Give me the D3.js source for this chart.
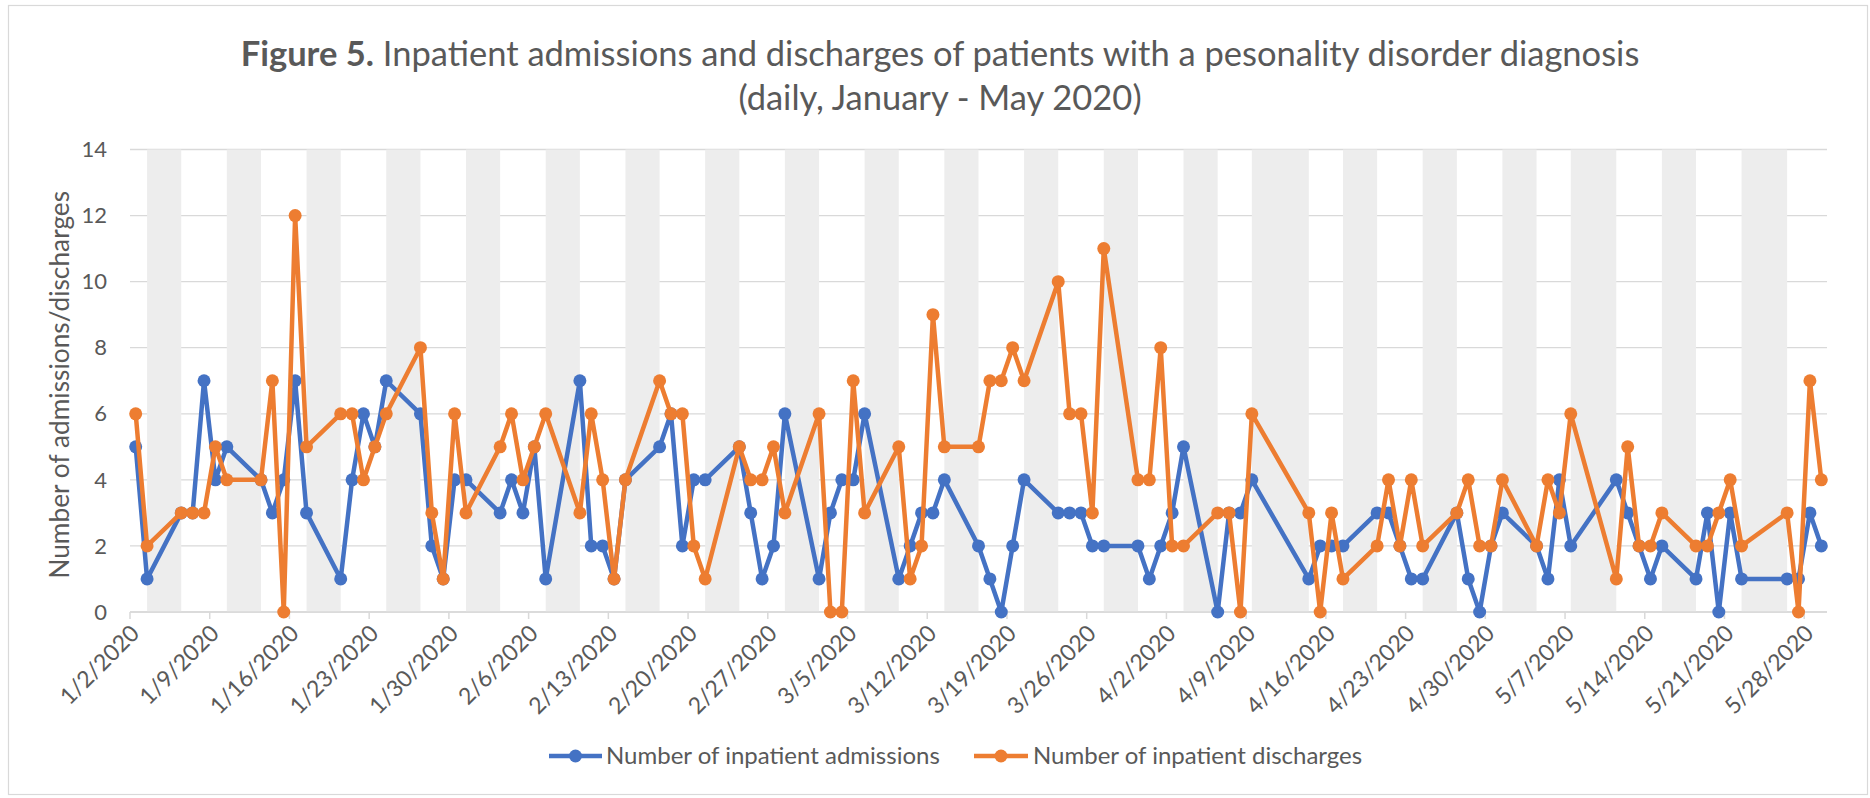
<!DOCTYPE html>
<html>
<head>
<meta charset="utf-8">
<script src="https://cdn.jsdelivr.net/npm/d3@7"></script>
<style>
  body { margin: 0; background: #fff; }
  svg text { font-family: Lato, 'Open Sans', sans-serif; fill: #595959; }
</style>
</head>
<body>
<div id="chart"></div>
<script>
// working days that have values (weekends and bank holidays have none)
const dates = [
  '1/2/2020', '1/3/2020',
  '1/6/2020', '1/7/2020', '1/8/2020', '1/9/2020', '1/10/2020',
  '1/13/2020', '1/14/2020', '1/15/2020', '1/16/2020', '1/17/2020',
  '1/20/2020', '1/21/2020', '1/22/2020', '1/23/2020', '1/24/2020',
  '1/27/2020', '1/28/2020', '1/29/2020', '1/30/2020', '1/31/2020',
  '2/3/2020', '2/4/2020', '2/5/2020', '2/6/2020', '2/7/2020',
  '2/10/2020', '2/11/2020', '2/12/2020', '2/13/2020', '2/14/2020',
  '2/17/2020', '2/18/2020', '2/19/2020', '2/20/2020', '2/21/2020',
  '2/24/2020', '2/25/2020', '2/26/2020', '2/27/2020', '2/28/2020',
  '3/2/2020', '3/3/2020', '3/4/2020', '3/5/2020', '3/6/2020',
  '3/9/2020', '3/10/2020', '3/11/2020', '3/12/2020', '3/13/2020',
  '3/16/2020', '3/17/2020', '3/18/2020', '3/19/2020', '3/20/2020',
  '3/23/2020', '3/24/2020', '3/25/2020', '3/26/2020', '3/27/2020',
  '3/30/2020', '3/31/2020', '4/1/2020', '4/2/2020', '4/3/2020',
  '4/6/2020', '4/7/2020', '4/8/2020', '4/9/2020',
  '4/14/2020', '4/15/2020', '4/16/2020', '4/17/2020',
  '4/20/2020', '4/21/2020', '4/22/2020', '4/23/2020', '4/24/2020',
  '4/27/2020', '4/28/2020', '4/29/2020', '4/30/2020', '5/1/2020',
  '5/4/2020', '5/5/2020', '5/6/2020', '5/7/2020',
  '5/11/2020', '5/12/2020', '5/13/2020', '5/14/2020', '5/15/2020',
  '5/18/2020', '5/19/2020', '5/20/2020', '5/21/2020', '5/22/2020',
  '5/26/2020', '5/27/2020', '5/28/2020', '5/29/2020'
];

const admissions = [
  5, 1,
  3, 3, 7, 4, 5,
  4, 3, 4, 7, 3,
  1, 4, 6, 5, 7,
  6, 2, 1, 4, 4,
  3, 4, 3, 5, 1,
  7, 2, 2, 1, 4,
  5, 6, 2, 4, 4,
  5, 3, 1, 2, 6,
  1, 3, 4, 4, 6,
  1, 2, 3, 3, 4,
  2, 1, 0, 2, 4,
  3, 3, 3, 2, 2,
  2, 1, 2, 3, 5,
  0, 3, 3, 4,
  1, 2, 2, 2,
  3, 3, 2, 1, 1,
  3, 1, 0, 2, 3,
  2, 1, 4, 2,
  4, 3, 2, 1, 2,
  1, 3, 0, 3, 1,
  1, 1, 3, 2
];

const discharges = [
  6, 2,
  3, 3, 3, 5, 4,
  4, 7, 0, 12, 5,
  6, 6, 4, 5, 6,
  8, 3, 1, 6, 3,
  5, 6, 4, 5, 6,
  3, 6, 4, 1, 4,
  7, 6, 6, 2, 1,
  5, 4, 4, 5, 3,
  6, 0, 0, 7, 3,
  5, 1, 2, 9, 5,
  5, 7, 7, 8, 7,
  10, 6, 6, 3, 11,
  4, 4, 8, 2, 2,
  3, 3, 0, 6,
  3, 0, 3, 1,
  2, 4, 2, 4, 2,
  3, 4, 2, 2, 4,
  2, 4, 3, 6,
  1, 5, 2, 2, 3,
  2, 2, 3, 4, 2,
  3, 0, 7, 4
];

const holidays = ['4/10/2020', '4/13/2020', '5/8/2020', '5/25/2020'];
const firstDay = '1/2/2020';
const lastDay = '5/29/2020';

const tickDates = [
  '1/2/2020', '1/9/2020', '1/16/2020', '1/23/2020', '1/30/2020', '2/6/2020',
  '2/13/2020', '2/20/2020', '2/27/2020', '3/5/2020', '3/12/2020', '3/19/2020',
  '3/26/2020', '4/2/2020', '4/9/2020', '4/16/2020', '4/23/2020', '4/30/2020',
  '5/7/2020', '5/14/2020', '5/21/2020', '5/28/2020'
];
const yTicks = [0, 2, 4, 6, 8, 10, 12, 14];

const seriesNames = ['Number of inpatient admissions', 'Number of inpatient discharges'];
const colors = ['#4472C4', '#ED7D31'];

const width = 1870;
const height = 798;
const plot = { left: 130, right: 1827, top: 149.5, bottom: 612 };

const parse = d3.utcParse('%m/%d/%Y');
const mid = d => d3.utcHour.offset(d, 12);

const x = d3.scaleUtc()
  .domain([parse(firstDay), d3.utcDay.offset(parse(lastDay), 1)])
  .range([plot.left, plot.right]);

const y = d3.scaleLinear()
  .domain([0, 14])
  .range([plot.bottom, plot.top]);

const svg = d3.select('#chart')
  .append('svg')
  .attr('width', width)
  .attr('height', height);

svg.append('rect')
  .attr('width', width)
  .attr('height', height)
  .attr('fill', '#fff');

svg.append('rect')
  .attr('x', 8.5)
  .attr('y', 5.5)
  .attr('width', 1859)
  .attr('height', 789)
  .attr('fill', 'none')
  .attr('stroke', '#D9D9D9')
  .attr('stroke-width', 1.2);

// title
const title = svg.append('text')
  .attr('x', 940)
  .attr('y', 66)
  .attr('text-anchor', 'middle')
  .style('font-size', '34.5px');
title.append('tspan').style('font-weight', 'bold').text('Figure 5.');
title.append('tspan').text(' Inpatient admissions and discharges of patients with a pesonality disorder diagnosis');

svg.append('text')
  .attr('x', 940)
  .attr('y', 110)
  .attr('text-anchor', 'middle')
  .style('font-size', '34.5px')
  .text('(daily, January - May 2020)');

// gridlines
svg.append('g')
  .attr('class', 'grid')
  .selectAll('line')
  .data(yTicks)
  .enter()
  .append('line')
  .attr('x1', plot.left)
  .attr('x2', plot.right)
  .attr('y1', d => y(d))
  .attr('y2', d => y(d))
  .attr('stroke', '#D9D9D9')
  .attr('stroke-width', 1.3);

// shaded non-working days (weekends and bank holidays)
const holidaySet = new Set(holidays.map(s => +parse(s)));
const offDays = d3.utcDay.range(x.domain()[0], x.domain()[1])
  .filter(d => d.getUTCDay() === 0 || d.getUTCDay() === 6 || holidaySet.has(+d));
const runs = [];
offDays.forEach(d => {
  const last = runs[runs.length - 1];
  if (last && +d3.utcDay.offset(last[1], 1) === +d) last[1] = d;
  else runs.push([d, d]);
});

svg.append('g')
  .attr('class', 'bands')
  .selectAll('rect')
  .data(runs)
  .enter()
  .append('rect')
  .attr('x', d => Math.max(plot.left, x(d3.utcHour.offset(d[0], -12))))
  .attr('width', d => Math.min(plot.right, x(d3.utcHour.offset(d[1], 36))) - Math.max(plot.left, x(d3.utcHour.offset(d[0], -12))))
  .attr('y', y(14))
  .attr('height', y(0) - y(14))
  .attr('fill', '#EDEDED');

// x axis
const ticks = tickDates.map(parse);
svg.append('line')
  .attr('x1', plot.left)
  .attr('x2', plot.right)
  .attr('y1', y(0))
  .attr('y2', y(0))
  .attr('stroke', '#D9D9D9')
  .attr('stroke-width', 1.5);

svg.append('g')
  .selectAll('line')
  .data(ticks)
  .enter()
  .append('line')
  .attr('x1', d => x(d))
  .attr('x2', d => x(d))
  .attr('y1', y(0))
  .attr('y2', y(0) + 7)
  .attr('stroke', '#D9D9D9')
  .attr('stroke-width', 1.5);

svg.append('g')
  .selectAll('text')
  .data(tickDates)
  .enter()
  .append('text')
  .attr('transform', d => `translate(${x(parse(d)) + 5},${y(0) + 17}) rotate(-45)`)
  .attr('text-anchor', 'end')
  .attr('dy', '0.35em')
  .style('font-size', '23px')
  .text(d => d);

// y axis labels
svg.append('g')
  .selectAll('text')
  .data(yTicks)
  .enter()
  .append('text')
  .attr('x', 107)
  .attr('y', d => y(d))
  .attr('dy', '0.35em')
  .attr('text-anchor', 'end')
  .style('font-size', '22px')
  .text(d => d);

svg.append('text')
  .attr('transform', `translate(69,${(plot.top + plot.bottom) / 2 + 4}) rotate(-90)`)
  .attr('text-anchor', 'middle')
  .style('font-size', '26.3px')
  .text('Number of admissions/discharges');

// series
const series = [admissions, discharges].map(vals =>
  dates.map((d, i) => ({ date: parse(d), value: vals[i] })));

const line = d3.line()
  .x(d => x(mid(d.date)))
  .y(d => y(d.value));

series.forEach((data, i) => {
  const g = svg.append('g').attr('class', 'series');
  g.append('path')
    .datum(data)
    .attr('d', line)
    .attr('fill', 'none')
    .attr('stroke', colors[i])
    .attr('stroke-width', 4.5)
    .attr('stroke-linejoin', 'round');
  g.selectAll('circle')
    .data(data)
    .enter()
    .append('circle')
    .attr('cx', d => x(mid(d.date)))
    .attr('cy', d => y(d.value))
    .attr('r', 6.5)
    .attr('fill', colors[i]);
});

// legend
const legendItems = [
  { x1: 549, x2: 602, tx: 606 },
  { x1: 974, x2: 1028, tx: 1033 }
];
const legend = svg.append('g').attr('class', 'legend');
legendItems.forEach((item, i) => {
  legend.append('line')
    .attr('x1', item.x1)
    .attr('x2', item.x2)
    .attr('y1', 756)
    .attr('y2', 756)
    .attr('stroke', colors[i])
    .attr('stroke-width', 4.5);
  legend.append('circle')
    .attr('cx', (item.x1 + item.x2) / 2)
    .attr('cy', 756)
    .attr('r', 6.5)
    .attr('fill', colors[i]);
  legend.append('text')
    .attr('x', item.tx)
    .attr('y', 756)
    .attr('dy', '0.35em')
    .style('font-size', '24px')
    .text(seriesNames[i]);
});
</script>
</body>
</html>
